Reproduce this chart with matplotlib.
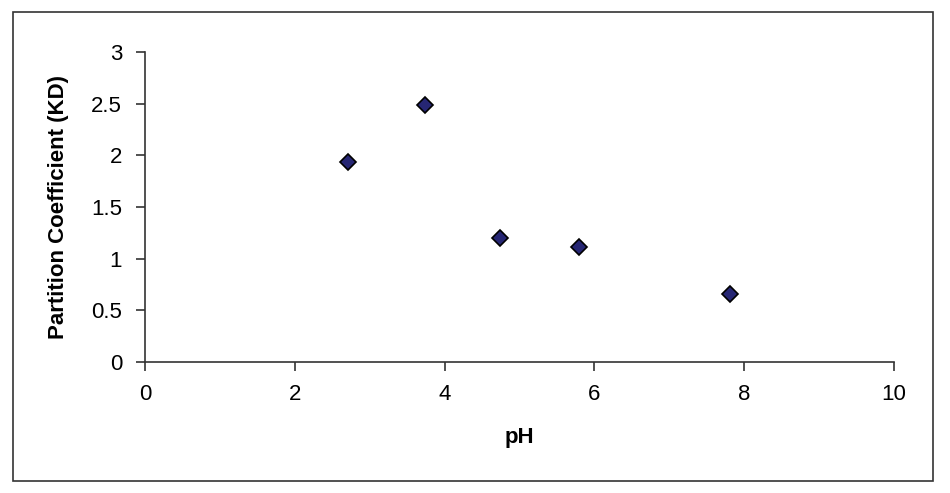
import matplotlib
matplotlib.use("Agg")
import matplotlib.pyplot as plt
from matplotlib.patches import Rectangle

plt.rcParams['font.family'] = ['Liberation Sans', 'DejaVu Sans']

ph = [2.71, 3.74, 4.74, 5.80, 7.81]
kd = [1.935, 2.485, 1.20, 1.115, 0.66]
xticks = [0, 2, 4, 6, 8, 10]
yticks = [0, 0.5, 1, 1.5, 2, 2.5, 3]
ylabels = ['0', '0.5', '1', '1.5', '2', '2.5', '3']

fig = plt.figure(figsize=(9.5, 4.93), dpi=100)
ax = fig.add_axes([145/950, 1 - 362/493, (894 - 145)/950, (362 - 52)/493])

ax.plot(ph, kd, linestyle='none', marker='D', markersize=8.5,
        markerfacecolor='#262673', markeredgecolor='black', markeredgewidth=1.2)

ax.set_xlim(0, 10)
ax.set_ylim(0, 3)
ax.set_xticks(xticks)
ax.set_yticks(yticks)
ax.set_yticklabels(ylabels)
ax.tick_params(labelsize=16, length=6.5, width=1.2, color='#333333')
ax.tick_params(axis='x', pad=9)
ax.tick_params(axis='y', pad=10)

for s in ['top', 'right']:
    ax.spines[s].set_visible(False)
for s in ['left', 'bottom']:
    ax.spines[s].set_color('#333333')
    ax.spines[s].set_linewidth(1.2)

ax.set_xlabel('pH', fontsize=16, fontweight='bold', labelpad=16)
ax.set_ylabel('Partition Coefficient (KD)', fontsize=16, fontweight='bold', labelpad=16)

# outer chart border
fig.patches.append(Rectangle((13/950, 1 - 481/493), (933 - 13)/950, (481 - 12)/493,
                             transform=fig.transFigure, fill=False,
                             edgecolor='#333333', linewidth=1.2))

fig.savefig('out.png', dpi=100)
